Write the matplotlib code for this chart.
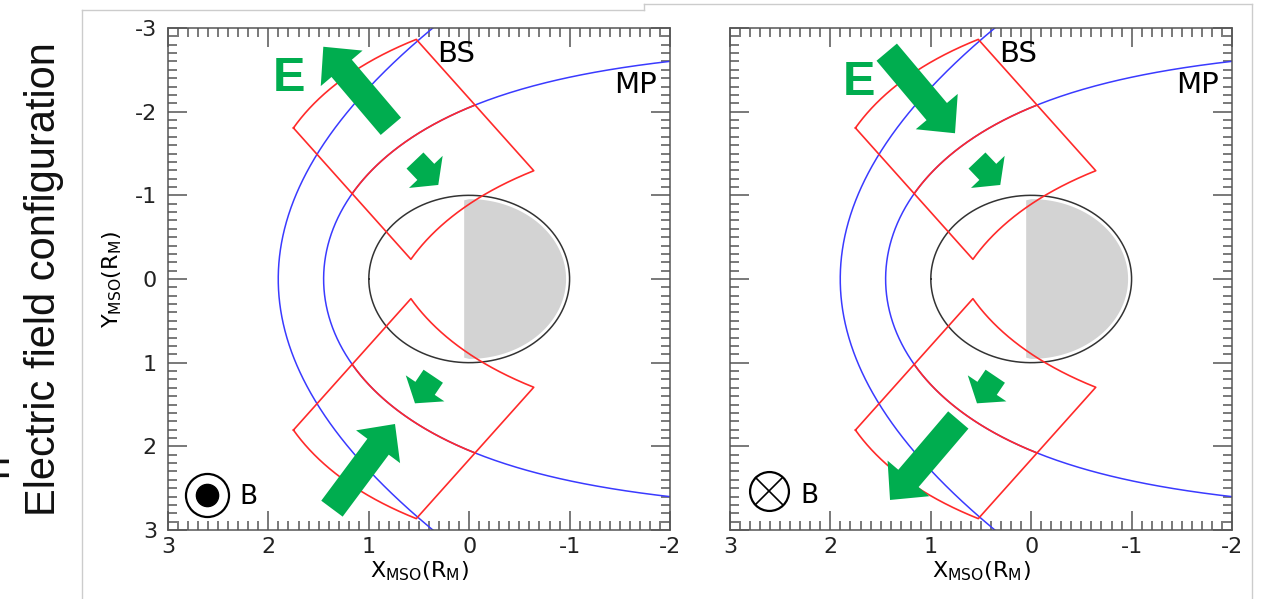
import numpy as np
import matplotlib.pyplot as plt
from matplotlib.patches import ArrowStyle
from matplotlib.lines import Line2D
from matplotlib.ticker import MultipleLocator

plt.rcParams['font.family'] = 'DejaVu Sans'
plt.rcParams['axes.unicode_minus'] = False
plt.rcParams['mathtext.default'] = 'regular'

W, H = 1268, 599

# axes ranges and ticks (MSO, R_M)
x_range = [3, -2]
y_range = [3, -3]
x_ticks = [3, 2, 1, 0, -1, -2]
y_ticks = [-3, -2, -1, 0, 1, 2, 3]

# boundary models: bow shock conic and magnetopause (Shue type)
bs_x0, bs_p, bs_eps = 0.5, 2.75, 1.04
mp_r0, mp_alpha = 1.45, 0.5

# red sectors: MP angle range (deg) and shift across the MP
box_theta = [41.2, 91.6]
box_shift = [0.585, 0.785]

# green arrows (tail x, tail y, tip x, tip y), one list per panel
big_arrows = [
    [(0.78, -1.825, 1.453, -2.776), (1.367, 2.745, 0.739, 1.733)],
    [(1.439, -2.711, 0.759, -1.742), (0.726, 1.685, 1.406, 2.641)],
]
small_arrows = [(0.54, -1.416, 0.308, -1.124), (0.358, 1.162, 0.54, 1.486)]

# labels
e_pos = [(1.795, -2.247), (1.72, -2.199)]
bs_pos = (0.32, -2.594)
mp_pos = (-1.87, -2.223)
b_marker = [(2.615, 2.581), (2.611, 2.534)]
b_text = [(2.29, 2.689), (2.30, 2.677)]

green = '#00ad4f'
red = '#ff2a2a'
blue = '#3a3aff'


def boundaries():
    th = np.radians(np.linspace(-163, 163, 801))
    r = bs_p * bs_eps / (1 + bs_eps * np.cos(th))
    bs = (bs_x0 + r * np.cos(th), r * np.sin(th))
    th = np.radians(np.linspace(-175, 175, 801))
    r = mp_r0 * (2 / (1 + np.cos(th))) ** mp_alpha
    mp = (r * np.cos(th), r * np.sin(th))
    return bs, mp


def sector(sign):
    th = np.radians(np.linspace(box_theta[0], box_theta[1], 200))
    r = mp_r0 * (2 / (1 + np.cos(th))) ** mp_alpha
    mx = r * np.cos(th)
    my = sign * r * np.sin(th)
    sx, sy = box_shift[0], sign * box_shift[1]
    px = np.concatenate([mx + sx, (mx - sx)[::-1], [mx[0] + sx]])
    py = np.concatenate([my + sy, (my - sy)[::-1], [my[0] + sy]])
    return (mx, my), (px, py)


def arrow(ax, a, hl, hw, tw):
    style = ArrowStyle.Simple(head_length=hl, head_width=hw, tail_width=tw)
    ax.annotate('', xy=(a[2], a[3]), xytext=(a[0], a[1]),
                arrowprops=dict(arrowstyle=style, mutation_scale=1,
                                color=green, lw=0, shrinkA=0, shrinkB=0),
                zorder=5)


fig = plt.figure(figsize=(W / 100, H / 100), dpi=100)
axes = [fig.add_axes([168 / W, 1 - 530 / H, 502 / W, 502 / H]),
        fig.add_axes([730 / W, 1 - 530 / H, 502 / W, 502 / H])]

bs, mp = boundaries()

for i, ax in enumerate(axes):
    ax.set_xlim(x_range)
    ax.set_ylim(y_range)
    ax.set_xticks(x_ticks)
    ax.set_yticks(y_ticks)
    ax.xaxis.set_minor_locator(MultipleLocator(0.1))
    ax.yaxis.set_minor_locator(MultipleLocator(0.1))
    ax.tick_params(which='both', direction='in', top=True, right=True,
                   color='#555555', width=1.1, labelsize=16,
                   labelcolor='#222222')
    ax.tick_params(which='major', length=13.5)
    ax.tick_params(which='minor', length=6.5)
    ax.tick_params(axis='x', pad=5)
    ax.tick_params(axis='y', pad=8)
    for s in ax.spines.values():
        s.set_color('#555555')
        s.set_linewidth(1.1)

    # planet: night side shaded
    t = np.radians(np.linspace(-90, 90, 200))
    gx = np.concatenate([[0.05], -0.965 * np.cos(t), [0.05]])
    gy = np.concatenate([[-0.94], 0.955 * np.sin(t), [0.94]])
    ax.fill(gx, gy, color='#d3d3d3', lw=0, zorder=1)
    t = np.radians(np.linspace(0, 360, 400))
    ax.plot(np.cos(t), np.sin(t), color='#333333', lw=1.1, zorder=2)

    ax.plot(bs[0], bs[1], color=blue, lw=1.1, zorder=2)
    ax.plot(mp[0], mp[1], color=blue, lw=1.1, zorder=2)

    for sign in (-1, 1):
        seg, box = sector(sign)
        ax.plot(box[0], box[1], color=red, lw=1.2, zorder=3)
        ax.plot(seg[0], seg[1], color=red, lw=1.2, zorder=3)

    for a in big_arrows[i]:
        arrow(ax, a, 20.4, 39.5, 19.2)
    for a in small_arrows:
        arrow(ax, a, 13.0, 33.5, 16.8)

    ax.text(e_pos[i][0], e_pos[i][1], 'E', color=green, fontsize=35,
            fontweight='bold', family='Liberation Sans', ha='center',
            va='baseline', zorder=6)
    ax.text(bs_pos[0], bs_pos[1], 'BS', fontsize=21, ha='left', va='baseline')
    ax.text(mp_pos[0], mp_pos[1], 'MP', fontsize=21, ha='right', va='baseline')

    bx, by = b_marker[i]
    if i == 0:
        ax.plot(bx, by, 'o', ms=31, mfc='white', mec='black', mew=1.6,
                zorder=6)
        ax.plot(bx, by, 'o', ms=16, color='black', zorder=7)
    else:
        ax.plot(bx, by, 'o', ms=28, mfc='white', mec='black', mew=1.6,
                zorder=6)
        ax.plot(bx, by, 'x', ms=19.5, color='black', mew=1.2, zorder=7)
    ax.text(b_text[i][0], b_text[i][1], 'B', fontsize=19, ha='left',
            va='baseline', zorder=7)

    ax.set_xlabel(r'X$_{MSO}$(R$_M$)', fontsize=16, labelpad=2)

axes[0].set_ylabel(r'Y$_{MSO}$(R$_M$)', fontsize=16, labelpad=8)
axes[1].tick_params(labelleft=False)

fig.text(55 / W, 1 - 279 / H, 'Electric field configuration', rotation=90,
         rotation_mode='anchor', ha='center', va='baseline', fontsize=30,
         family='Liberation Sans', color='#111111')
fig.text(7 / W, 1 - 465 / H, 'n', rotation=90, rotation_mode='anchor',
         ha='center', va='baseline', fontsize=30, family='Liberation Sans',
         color='#111111')

# slide frames
frame = '#cccccc'
fig.add_artist(Line2D([82 / W, 82 / W], [0, 1 - 10 / H], color=frame, lw=1))
fig.add_artist(Line2D([82 / W, 644 / W], [1 - 10 / H, 1 - 10 / H],
                      color=frame, lw=1))
fig.add_artist(Line2D([644 / W, 644 / W], [1 - 10 / H, 1 - 4 / H],
                      color=frame, lw=1))
fig.add_artist(Line2D([644 / W, 1252 / W], [1 - 4 / H, 1 - 4 / H],
                      color=frame, lw=1))
fig.add_artist(Line2D([1252 / W, 1252 / W], [0, 1 - 4 / H], color=frame,
                      lw=1))

fig.savefig('out.png', dpi=100)
